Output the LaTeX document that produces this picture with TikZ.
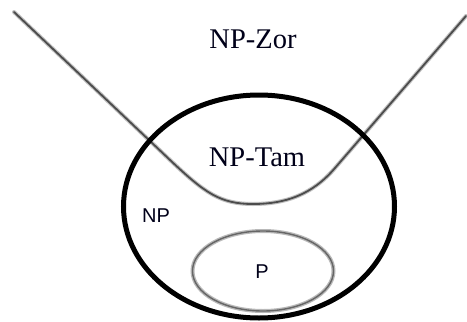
\documentclass[tikz,border=0pt]{standalone}
\usepackage{fontspec}
\setmainfont{Liberation Serif}
\newfontfamily\arialfont{Liberation Sans}
\usetikzlibrary{shapes.geometric}
\tikzset{
  bigset/.style={ellipse, draw=black, line width=5pt, inner sep=0pt},
  smallset/.style={ellipse, draw=gray!55, line width=4pt, inner sep=0pt},
  smallsetcore/.style={ellipse, draw=black!60, line width=1.4pt, inner sep=0pt},
  boundary/.style={draw=gray!50, line width=4pt, line cap=round},
  boundarycore/.style={draw=black!70, line width=1.8pt, line cap=round},
  serlabel/.style={font=\fontsize{28.5}{30}\selectfont, text=black!90!blue, inner sep=0pt},
  sanlabel/.style={font=\arialfont\fontsize{20}{22}\selectfont, text=black!90!blue, inner sep=0pt}
}
\begin{document}
\begin{tikzpicture}[x=1pt,y=-1pt]
\useasboundingbox (0,0) rectangle (467,322);
\fill[white] (0,0) rectangle (467,322);
% V-shaped boundary between NP-Zor and NP-Tam
\coordinate (vl) at (14,12);
\coordinate (vr) at (466,16);
\path[boundary] (vl) -- (170,160) .. controls (205,193) and (220,204) .. (253,204)
  .. controls (285,204) and (312,195) .. (335,168) -- (vr);
\path[boundarycore] (vl) -- (170,160) .. controls (205,193) and (220,204) .. (253,204)
  .. controls (285,204) and (312,195) .. (335,168) -- (vr);
% P set
\node[smallset, minimum width=141pt, minimum height=80pt] (p) at (263,271) {};
\node[smallsetcore, minimum width=141pt, minimum height=80pt] (pcore) at (263,271) {};
% NP set
\node[bigset, minimum width=271pt, minimum height=223pt] (np) at (259,206.5) {};
% labels
\node[serlabel] (zor) at (253,39) {NP-Zor};
\node[serlabel] (tam) at (257,157) {NP-Tam};
\node[sanlabel] (nplabel) at (156,216) {NP};
\node[sanlabel] (plabel) at (262,272) {P};
\end{tikzpicture}
\end{document}
